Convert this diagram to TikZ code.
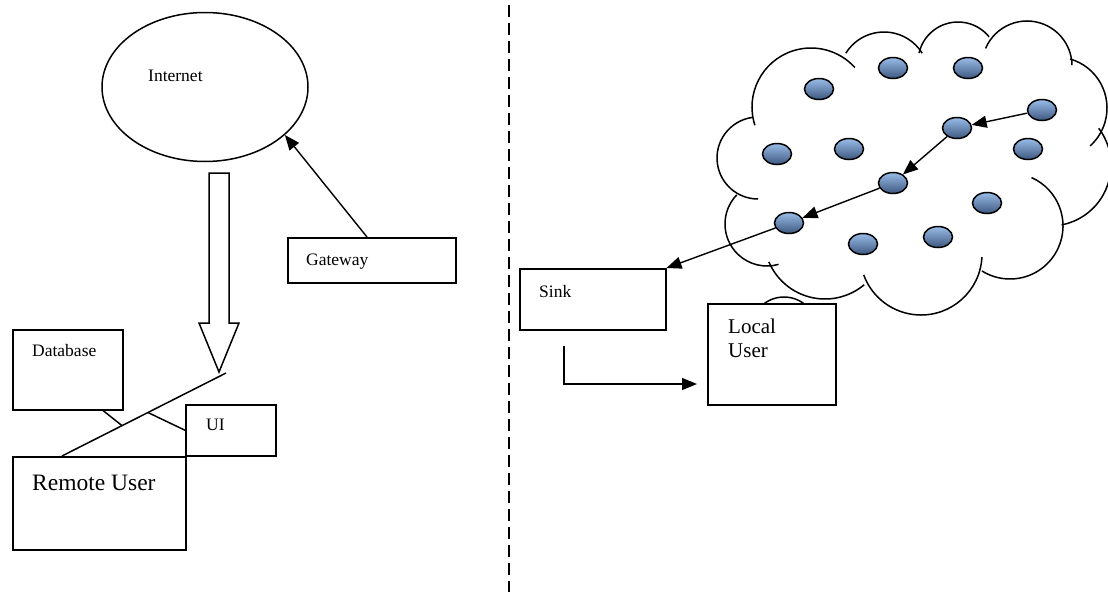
\documentclass[tikz,border=0pt]{standalone}
\usepackage{fontspec}
\setmainfont{Liberation Serif}
\usetikzlibrary{arrows.meta,positioning,calc,shapes.geometric}
\definecolor{nodetop}{RGB}{152,188,232}
\definecolor{nodebot}{RGB}{62,88,128}
\tikzset{
  box/.style={draw, line width=1.5pt, fill=white, inner sep=0pt, anchor=north west},
  lbl/.style={font=\fontsize{17.5}{20}\selectfont, inner sep=0pt, anchor=base west},
  biglbl/.style={font=\fontsize{23.5}{26}\selectfont, inner sep=0pt, anchor=base west},
  cloudnet/.style={ellipse, draw, line width=1.5pt, inner sep=0pt},
  sensor/.style={ellipse, draw, line width=1.5pt, inner sep=0pt,
                 minimum width=29pt, minimum height=21pt,
                 top color=nodetop, bottom color=nodebot},
  arr/.style={-{Triangle[length=15pt, width=12pt]}, line width=1.4pt},
  ln/.style={line width=1.5pt},
  cloudln/.style={line width=1.5pt},
  fatarr/.style={draw, line width=1.5pt, fill=white, line join=miter},
  divider/.style={line width=1.4pt, dash pattern=on 12pt off 6pt},
}
% one bump of the cloud outline: centre, radius, start and end angle
\newcommand{\puff}[5]{%
  \draw[cloudln] (#1,#2) ++(#4:#3) arc[start angle=#4, end angle=#5, radius=#3];}

\begin{document}
\begin{tikzpicture}[x=1pt, y=-1pt]
  \useasboundingbox (0,0) rectangle (1108,592);

  % remote side
  \node[cloudnet, minimum width=206pt, minimum height=149pt] (inet) at (205,87) {};
  \node[lbl] (inettxt) at ($(inet.center)+(-57,-6)$) {Internet};

  \node[box, minimum width=168pt, minimum height=45pt] (gw) at (287,237) {};
  \node[lbl] (gwtxt) at ($(gw.north west)+(19,28)$) {Gateway};
  \draw[arr] ($(gw.north west)+(80,0)$) -- (inet.-31);

  \node[box, minimum width=110pt, minimum height=80pt] (db) at (12,329) {};
  \node[lbl] (dbtxt) at ($(db.north west)+(20,27)$) {Database};

  \node[box, fill=none, minimum width=90pt, minimum height=51pt] (ui) at (185,404) {};
  \node[lbl] (uitxt) at ($(ui.north west)+(21,26)$) {UI};

  \node[box, fill=none, minimum width=173pt, minimum height=93pt] (ru) at (12,456) {};
  \node[biglbl] (rutxt) at ($(ru.north west)+(20,34)$) {Remote User};

  \coordinate (hub) at (226,373);
  \coordinate (rutop) at ($(ru.north west)+(50,0)$);
  \draw[ln] (rutop) -- (hub);
  \draw[ln] ($(db.south west)+(91,0)$) -- ($(rutop)!0.366!(hub)$);
  \draw[ln] (ui.west) -- ($(rutop)!0.524!(hub)$);

  % hollow arrow down from the internet
  \draw[fatarr] ($(hub)+(-7,-1)$) -- ++(-20,-49) -- ++(10,0) -- ++(0,-150)
    -- ++(20,0) -- ++(0,150) -- ++(10,0) -- cycle;

  \draw[divider] (509,5) -- (509,592);

  % sensor field
  \puff{811}{107}{59}{162}{318}
  \puff{884}{77}{45}{212}{328}
  \puff{958}{62}{40}{193}{321}
  \puff{1027}{66}{45}{203}{359}
  \puff{1056}{108}{51}{286}{408}
  \puff{1050}{165}{61}{-37}{79}
  \puff{1010}{226}{53}{-66}{122}
  \puff{921}{254}{61}{3}{160}
  \puff{825}{238}{61}{157}{50}
  \puff{767}{224}{42}{224}{74}
  \puff{758}{158}{41}{261.5}{90}
  \draw[cloudln] (784,330) circle[radius=33];

  \foreach \nm/\px/\py in {n1/893/68, n2/968/68, n3/819/89, n4/1042/110,
      n5/957/128, n6/777/154, n7/849/149, n8/1028/149, n9/893/183,
      n10/987/203, n11/789/223, n12/863/244, n13/938/237}
    \node[sensor] (\nm) at (\px,\py) {};

  % local side
  \node[box, fill=none, minimum width=146pt, minimum height=61pt] (sink) at (519,268) {};
  \node[lbl] (sinktxt) at ($(sink.north west)+(20,29)$) {Sink};

  \node[box, minimum width=128pt, minimum height=101pt] (lu) at (707,303) {};
  \node[inner sep=0pt, anchor=north west, align=left,
        font=\fontsize{21}{24}\selectfont] (lutxt) at ($(lu.north west)+(21,16)$) {Local\\User};

  \draw[arr] (n4) -- (n5);
  \draw[arr] (n5) -- (n9);
  \draw[arr] (n9) -- (n11);
  \draw[arr] (n11) -- (sink.north east);
  \draw[arr] ($(sink.south west)+(45,15)$) |- ($(lu.north west)+(-10,81)$);
\end{tikzpicture}
\end{document}
